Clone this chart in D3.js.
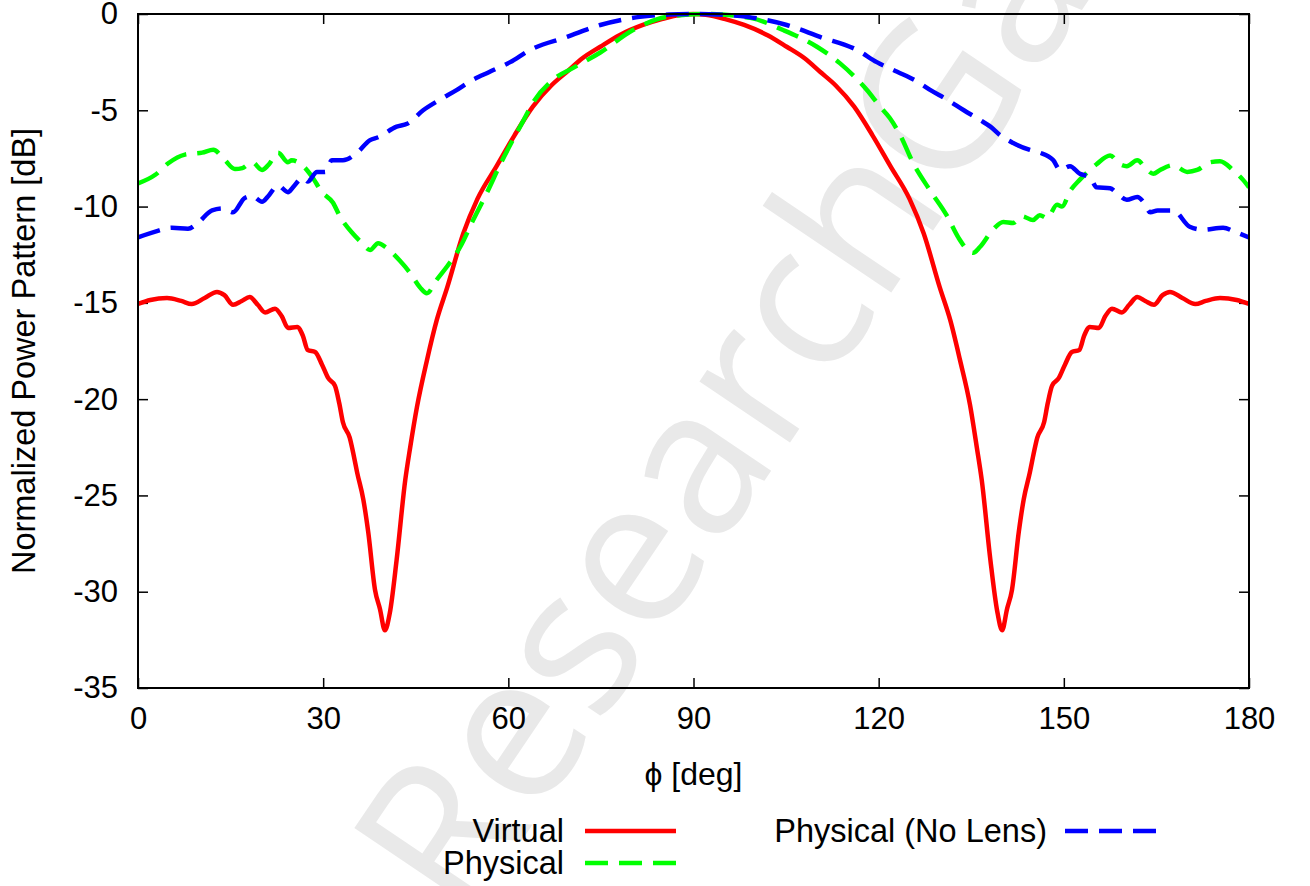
<!DOCTYPE html>
<html>
<head>
<meta charset="utf-8">
<script src="https://cdn.jsdelivr.net/npm/d3@7"></script>
<style>
  html, body { margin: 0; padding: 0; background: #fff; }
  svg text { font-family: "Liberation Sans", Arial, sans-serif; }
</style>
</head>
<body>
<svg id="chart" width="1310" height="886"></svg>
<script>
// Angle grid ticks and dB ticks
const xTicks = [0, 30, 60, 90, 120, 150, 180];
const yTicks = [0, -5, -10, -15, -20, -25, -30, -35];

// Virtual array pattern
const virtualPhi = [0, 2, 4.7, 7, 8.7, 10.8, 12.8, 14, 15.4, 16.8, 18.1, 19.4, 20.6, 22.2, 23.3, 24.3, 25.8, 26.7, 27.5, 28.7,
  29.8, 30.8, 31.9, 32.6, 33.2, 34.3, 35, 35.5, 36.5, 37.3, 38.4, 39.2, 40, 40.8, 41.9, 43.3, 44.1, 45.2, 46.8, 48.4,
  50.1, 52.7, 55, 58.1, 61, 64, 67, 69.5, 72, 74.9, 78, 81.8, 85, 88, 90,
  92, 95, 98.2, 102, 105.1, 108, 110.5, 113, 116, 119, 121.9, 125, 127.3, 129.9, 131.6, 133.2, 134.8, 135.9, 136.7, 138.1,
  139.2, 140, 140.8, 141.6, 142.7, 143.5, 144.5, 145, 145.7, 146.8, 147.4, 148.1, 149.2, 150.2, 151.3, 152.5, 153.3, 154.2,
  155.7, 156.7, 157.8, 159.4, 160.6, 161.9, 163.2, 164.6, 166, 167.2, 169.2, 171.3, 173, 175.3, 178, 180];
const virtualDb = [-15.05, -14.85, -14.75, -14.9, -15.06, -14.75, -14.43, -14.6, -15.1, -14.9, -14.7, -15.1, -15.5, -15.3, -15.7, -16.3, -16.25, -16.7, -17.45, -17.55,
  -18.2, -18.9, -19.3, -20.2, -21.2, -22.0, -23.0, -23.8, -25.2, -26.9, -29.9, -30.9, -32.0, -31.1, -28.35, -24.2, -22.5, -20.4, -18.0, -15.9,
  -14.2, -11.4, -9.6, -7.9, -6.3, -4.8, -3.7, -3.0, -2.3, -1.7, -1.1, -0.57, -0.25, -0.04, 0,
  -0.04, -0.25, -0.57, -1.1, -1.7, -2.3, -3.0, -3.7, -4.8, -6.3, -7.9, -9.6, -11.4, -14.2, -15.9, -18.0, -20.3, -22.5, -24.2, -28.35,
  -31.0, -32.0, -30.9, -29.9, -26.9, -25.2, -23.8, -23.0, -22.0, -21.2, -20.2, -19.3, -18.9, -18.2, -17.55, -17.45, -16.7, -16.25,
  -16.3, -15.7, -15.3, -15.5, -15.1, -14.7, -14.9, -15.1, -14.6, -14.43, -14.75, -15.06, -14.9, -14.75, -14.85, -15.05];

// Physical array with lens
const physicalPhi = [0, 2.8, 4.9, 7.6, 10.4, 12.2, 14.1, 15.7, 16.9, 18.5, 20.1, 21.1, 22.7, 24.3, 24.9, 26.6, 28.2, 29.8, 31.6, 32.7,
  34.8, 36, 37.6, 38.9, 40.3, 42.4, 44.1, 45.7, 46.8, 48.4, 50.1, 52.2, 54.3, 56.5, 58.7, 60.8, 62.5, 64, 67.3, 70.5,
  74.9, 80.2, 85.7, 92.2, 99.2, 104.5, 110, 113.7, 118.1, 120.2, 121.8, 123.5, 125.6, 128.3, 131.1, 132.9, 134.8, 135.3, 136.4, 138.5,
  140.2, 141.8, 143.2, 145, 146.1, 147.3, 148.9, 149.7, 151, 152.6, 154.2, 155.3, 157.5, 159.1, 160.2, 161.9, 163.5, 164.5, 165.6, 167.7,
  170, 171.6, 173.7, 175.3, 177.4, 179, 180];
const physicalDb = [-8.8, -8.35, -7.75, -7.3, -7.2, -7.05, -7.6, -8.05, -8.0, -7.7, -8.1, -7.85, -7.2, -7.7, -7.6, -7.85, -8.45, -9.25, -9.8, -10.5,
  -11.4, -11.8, -12.25, -11.9, -12.15, -12.8, -13.45, -14.2, -14.5, -13.8, -13.1, -12.1, -10.7, -9.3, -7.8, -6.5, -5.5, -4.6, -3.4, -2.8,
  -2.0, -0.83, -0.15, 0, -0.2, -0.83, -1.7, -2.55, -3.95, -4.8, -5.4, -6.3, -7.75, -9.15, -10.5, -11.6, -12.35, -12.4, -12.1, -11.2,
  -10.8, -10.85, -10.5, -10.7, -10.45, -10.6, -9.9, -10.0, -9.2, -8.6, -8.1, -7.8, -7.35, -7.8, -7.9, -7.6, -8.1, -8.3, -8.1, -7.85,
  -8.2, -8.1, -7.7, -7.65, -8.1, -8.6, -9.0];

// Physical array without lens
const noLensPhi = [0, 2.8, 5.5, 8.1, 9.7, 12, 13.8, 15.4, 17.3, 18.5, 20.1, 21, 22.7, 24.3, 25.1, 26.7, 27.5, 29, 30.3, 31.4,
  33.2, 35.5, 37.6, 38.9, 41.9, 43.6, 46.2, 48.9, 51.6, 53.8, 57, 60.3, 63.5, 69.5, 74.9, 81.3, 86, 90,
  94, 98.7, 105.1, 110.5, 116.5, 119.7, 123, 126.2, 128.4, 131.1, 133.8, 136.4, 138.1, 139.7, 141.8, 144.5, 146.1, 148.3, 149.4, 151,
  152.6, 154.2, 155.3, 157.5, 158.6, 160.2, 161.9, 163, 164, 165.2, 167.7, 170.4, 172.5, 175.8, 178, 180];
const noLensDb = [-11.6, -11.3, -11.1, -11.15, -10.85, -10.2, -10.1, -10.3, -9.55, -9.45, -9.75, -9.5, -8.9, -9.25, -9.0, -8.5, -8.7, -8.2, -8.2, -7.6,
  -7.6, -7.2, -6.55, -6.4, -5.85, -5.7, -5.0, -4.45, -3.95, -3.5, -3.0, -2.5, -1.87, -1.19, -0.57, -0.15, -0.03, 0,
  -0.03, -0.15, -0.57, -1.19, -1.87, -2.5, -3.0, -3.5, -3.95, -4.45, -5.0, -5.5, -5.85, -6.3, -6.7, -7.06, -7.2, -7.6, -8.1, -7.9,
  -8.3, -8.45, -9.0, -9.05, -9.3, -9.65, -9.5, -9.8, -10.3, -10.2, -10.2, -11.05, -11.2, -11.1, -11.35, -11.6];

const seriesNames = ["Virtual", "Physical", "Physical (No Lens)"];
const seriesColors = ["#ff0000", "#00ff00", "#0000ff"];

const series = [
  { name: seriesNames[0], color: seriesColors[0], dash: null, phi: virtualPhi, db: virtualDb },
  { name: seriesNames[1], color: seriesColors[1], dash: "23,11", phi: physicalPhi, db: physicalDb },
  { name: seriesNames[2], color: seriesColors[2], dash: "23,11", phi: noLensPhi, db: noLensDb }
];

const svg = d3.select("#chart");
const plot = { left: 138, right: 1249, top: 14, bottom: 688 };

const x = d3.scaleLinear().domain([0, 180]).range([plot.left, plot.right]);
const y = d3.scaleLinear().domain([-35, 0]).range([plot.bottom, plot.top]);

// Faint watermark behind the plot
svg.append("text")
  .attr("transform", "translate(464,926) rotate(-56)")
  .attr("font-size", 204)
  .attr("fill", "#e9e9e9")
  .style("font-family", "'Open Sans', 'Liberation Sans', sans-serif")
  .text("ResearchGate");

// Axes with inward ticks on all four sides
const tickFont = 31;
const labelFont = 32.5;
const bottomAxis = d3.axisBottom(x).tickValues(xTicks).tickSizeInner(-10).tickSizeOuter(0).tickPadding(19).tickFormat(d3.format("d"));
const topAxis = d3.axisTop(x).tickValues(xTicks).tickSizeInner(-10).tickSizeOuter(0).tickFormat("");
const leftAxis = d3.axisLeft(y).tickValues(yTicks).tickSizeInner(-10).tickSizeOuter(0).tickPadding(20).tickFormat(d => d === 0 ? "0" : d3.format("d")(d).replace("−", "-"));
const rightAxis = d3.axisRight(y).tickValues(yTicks).tickSizeInner(-10).tickSizeOuter(0).tickFormat("");

function styleAxis(g) {
  g.select(".domain").remove();
  g.selectAll(".tick line").attr("stroke", "#000").attr("stroke-width", 1.5);
  g.selectAll(".tick text").attr("fill", "#000").attr("font-size", tickFont)
    .style("font-family", "'Liberation Sans', Arial, sans-serif");
}

svg.append("g").attr("transform", `translate(0,${plot.bottom})`).call(bottomAxis).call(styleAxis);
svg.append("g").attr("transform", `translate(0,${plot.top})`).call(topAxis).call(styleAxis);
svg.append("g").attr("transform", `translate(${plot.left},0)`).call(leftAxis).call(styleAxis);
svg.append("g").attr("transform", `translate(${plot.right},0)`).call(rightAxis).call(styleAxis);

// Curves
svg.append("clipPath").attr("id", "plot-clip").append("rect")
  .attr("x", plot.left).attr("y", plot.top - 4)
  .attr("width", plot.right - plot.left).attr("height", plot.bottom - plot.top + 4);

const line = d3.line().x(d => x(d[0])).y(d => y(d[1])).curve(d3.curveMonotoneX);

const curves = svg.append("g").attr("clip-path", "url(#plot-clip)");
series.forEach(s => {
  const pts = s.phi.map((p, i) => [p, s.db[i]]);
  curves.append("path")
    .datum(pts)
    .attr("d", line)
    .attr("fill", "none")
    .attr("stroke", s.color)
    .attr("stroke-width", 4.5)
    .attr("stroke-linejoin", "round")
    .attr("stroke-dasharray", s.dash);
});

// Frame
svg.append("rect")
  .attr("x", plot.left).attr("y", plot.top)
  .attr("width", plot.right - plot.left).attr("height", plot.bottom - plot.top)
  .attr("fill", "none").attr("stroke", "#000").attr("stroke-width", 2);

// Axis titles
svg.append("text")
  .attr("x", (plot.left + plot.right) / 2).attr("y", 785)
  .attr("text-anchor", "middle").attr("font-size", 32).attr("fill", "#000")
  .text("ϕ [deg]");

svg.append("text")
  .attr("transform", `translate(35,${(plot.top + plot.bottom) / 2}) rotate(-90)`)
  .attr("text-anchor", "middle").attr("font-size", labelFont).attr("fill", "#000")
  .text("Normalized Power Pattern [dB]");

// Legend
const legendItems = [
  { s: series[0], textX: 564, lineX: 585, y: 831 },
  { s: series[1], textX: 564, lineX: 585, y: 863 },
  { s: series[2], textX: 1047, lineX: 1065, y: 831 }
];
const legend = svg.append("g");
legendItems.forEach(it => {
  legend.append("text")
    .attr("x", it.textX).attr("y", it.y + 11)
    .attr("text-anchor", "end").attr("font-size", labelFont).attr("fill", "#000")
    .text(it.s.name);
  legend.append("line")
    .attr("x1", it.lineX).attr("x2", it.lineX + 91)
    .attr("y1", it.y).attr("y2", it.y)
    .attr("stroke", it.s.color).attr("stroke-width", 4.5)
    .attr("stroke-dasharray", it.s.dash);
});
</script>
</body>
</html>
